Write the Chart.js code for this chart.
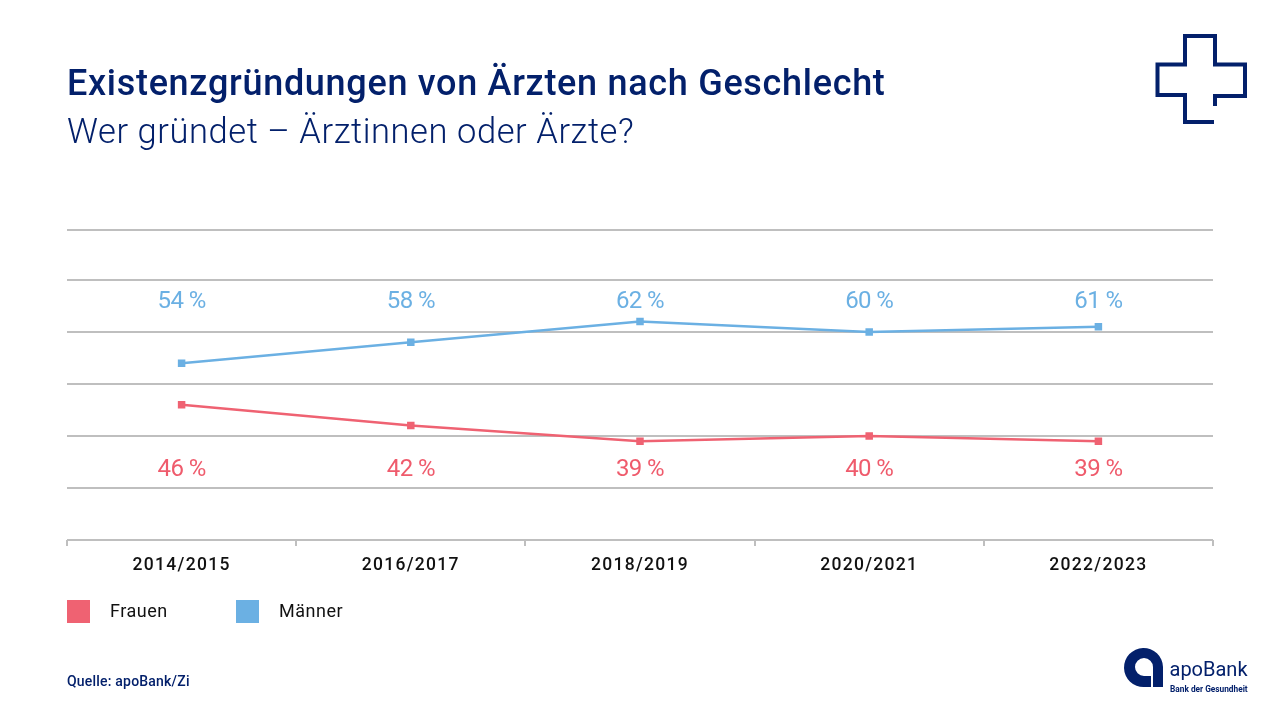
<!DOCTYPE html>
<html lang="de">
  <head>
    <meta charset="UTF-8" />
    <title>Existenzgründungen von Ärzten nach Geschlecht</title>
    <script src="https://cdn.jsdelivr.net/npm/chart.js"></script>
    <style>
      html, body { margin: 0; padding: 0; background: #fff; }
      body { width: 1280px; height: 720px; position: relative; overflow: hidden; font-family: Roboto, sans-serif; }
      canvas { position: absolute; left: 0; top: 0; }
      .txt { position: absolute; white-space: nowrap; color: #03206b; }
      #title { left: 67px; top: 62px; font-size: 36px; line-height: 42px; font-weight: 500; letter-spacing: 0.7px; }
      #subtitle { left: 67px; top: 109px; font-size: 34.5px; line-height: 44px; font-weight: 300; letter-spacing: 0.57px; }
      #source { left: 67px; top: 672px; font-size: 14px; line-height: 18px; font-weight: 500; letter-spacing: 0.2px; }
      .legend-box { position: absolute; top: 600px; width: 23px; height: 23px; }
      .legend-text { position: absolute; top: 599px; line-height: 23px; font-size: 18px; color: #111; letter-spacing: 0.5px; }
      #logo { position: absolute; left: 0; top: 0; }
    </style>
  </head>
  <body>
    <canvas id="chart" width="1280" height="720"></canvas>
    <div class="txt" id="title">Existenzgründungen von Ärzten nach Geschlecht</div>
    <div class="txt" id="subtitle">Wer gründet – Ärztinnen oder Ärzte?</div>
    <div class="txt" id="source">Quelle: apoBank/Zi</div>
    <div id="legend"></div>
    <svg id="logo" width="1280" height="720">
      <path d="M1214 122H1185V95H1157.5V64.500H1185V36H1215V64.500H1245V96H1215V106" fill="none" stroke="#03206b" stroke-width="4" />
      <path d="M1163 687H1153V667A9 9 0 1 0 1144 676H1151V687H1144A19.500 19.500 0 1 1 1163 667Z" fill="#03206b" />
      <text x="1169.500" y="676" font-family="Roboto" font-size="20" fill="#03206b">apoBank</text>
      <text x="1170" y="692" font-family="Roboto" font-size="8.300" font-weight="700" fill="#03206b">Bank der Gesundheit</text>
    </svg>

    <script>
      const categories = ['2014/2015', '2016/2017', '2018/2019', '2020/2021', '2022/2023'];
      const frauen = [46, 42, 39, 40, 39];
      const maenner = [54, 58, 62, 60, 61];
      // the top gridline sits a little closer than the others in the original
      const yTicks = [20, 30, 40, 50, 60, 70, 79.6];

      const red = '#ef6272';
      const blue = '#6bb0e3';

      // the value labels sit in one fixed row per series, not next to the points
      const labelRows = [
        { values: maenner, at: 65.75, color: '#6bb0e3' },
        { values: frauen, at: 33.45, color: '#ef5b6c' }
      ];

      const valueLabels = {
        id: 'valueLabels',
        afterDatasetsDraw(chart) {
          const ctx = chart.ctx;
          ctx.save();
          ctx.font = '24px Roboto';
          ctx.letterSpacing = '-0.6px';
          ctx.textAlign = 'center';
          ctx.textBaseline = 'middle';
          labelRows.forEach(row => {
            ctx.fillStyle = row.color;
            row.values.forEach((v, i) => {
              ctx.fillText(v + ' %', chart.scales.x.getPixelForValue(i), chart.scales.y.getPixelForValue(row.at));
            });
          });
          ctx.restore();
        }
      };

      // spaced out tick labels
      const tickSpacing = {
        id: 'tickSpacing',
        beforeDraw(chart) { chart.ctx.letterSpacing = '1.3px'; }
      };

      new Chart(document.getElementById('chart').getContext('2d'), {
        type: 'line',
        data: {
          labels: categories,
          datasets: [
            { label: 'Frauen', data: frauen, borderColor: red, backgroundColor: red, borderWidth: 2.5,
              tension: 0, pointStyle: 'rect', pointRadius: 5.3, pointBorderWidth: 0, pointHoverRadius: 5.3 },
            { label: 'Männer', data: maenner, borderColor: blue, backgroundColor: blue, borderWidth: 2.5,
              tension: 0, pointStyle: 'rect', pointRadius: 5.3, pointBorderWidth: 0, pointHoverRadius: 5.3 }
          ]
        },
        options: {
          responsive: false,
          animation: false,
          layout: { padding: { left: 67, right: 67, top: 230, bottom: 135 } },
          plugins: { legend: { display: false }, tooltip: { enabled: false } },
          scales: {
            x: {
              offset: true,
              border: { display: false },
              grid: { offset: true, drawOnChartArea: false, color: '#bfbfbf', lineWidth: 2, tickLength: 6 },
              ticks: { color: '#111', font: { family: 'Roboto', size: 17.5, weight: '500' }, padding: 9, maxRotation: 0 }
            },
            y: {
              min: 20,
              max: 79.6,
              afterBuildTicks(axis) { axis.ticks = yTicks.map(v => ({ value: v })); },
              border: { display: false },
              grid: { color: '#bfbfbf', lineWidth: 2, drawTicks: false },
              ticks: { display: false }
            }
          }
        },
        plugins: [tickSpacing, valueLabels]
      });

      // legend
      const legend = document.getElementById('legend');
      [['Frauen', red, 67, 110], ['Männer', blue, 236, 279]].forEach(([name, color, boxX, textX]) => {
        legend.insertAdjacentHTML('beforeend',
          `<div class="legend-box" style="left:${boxX}px;background:${color}"></div>` +
          `<div class="legend-text" style="left:${textX}px">${name}</div>`);
      });
    </script>
  </body>
</html>
